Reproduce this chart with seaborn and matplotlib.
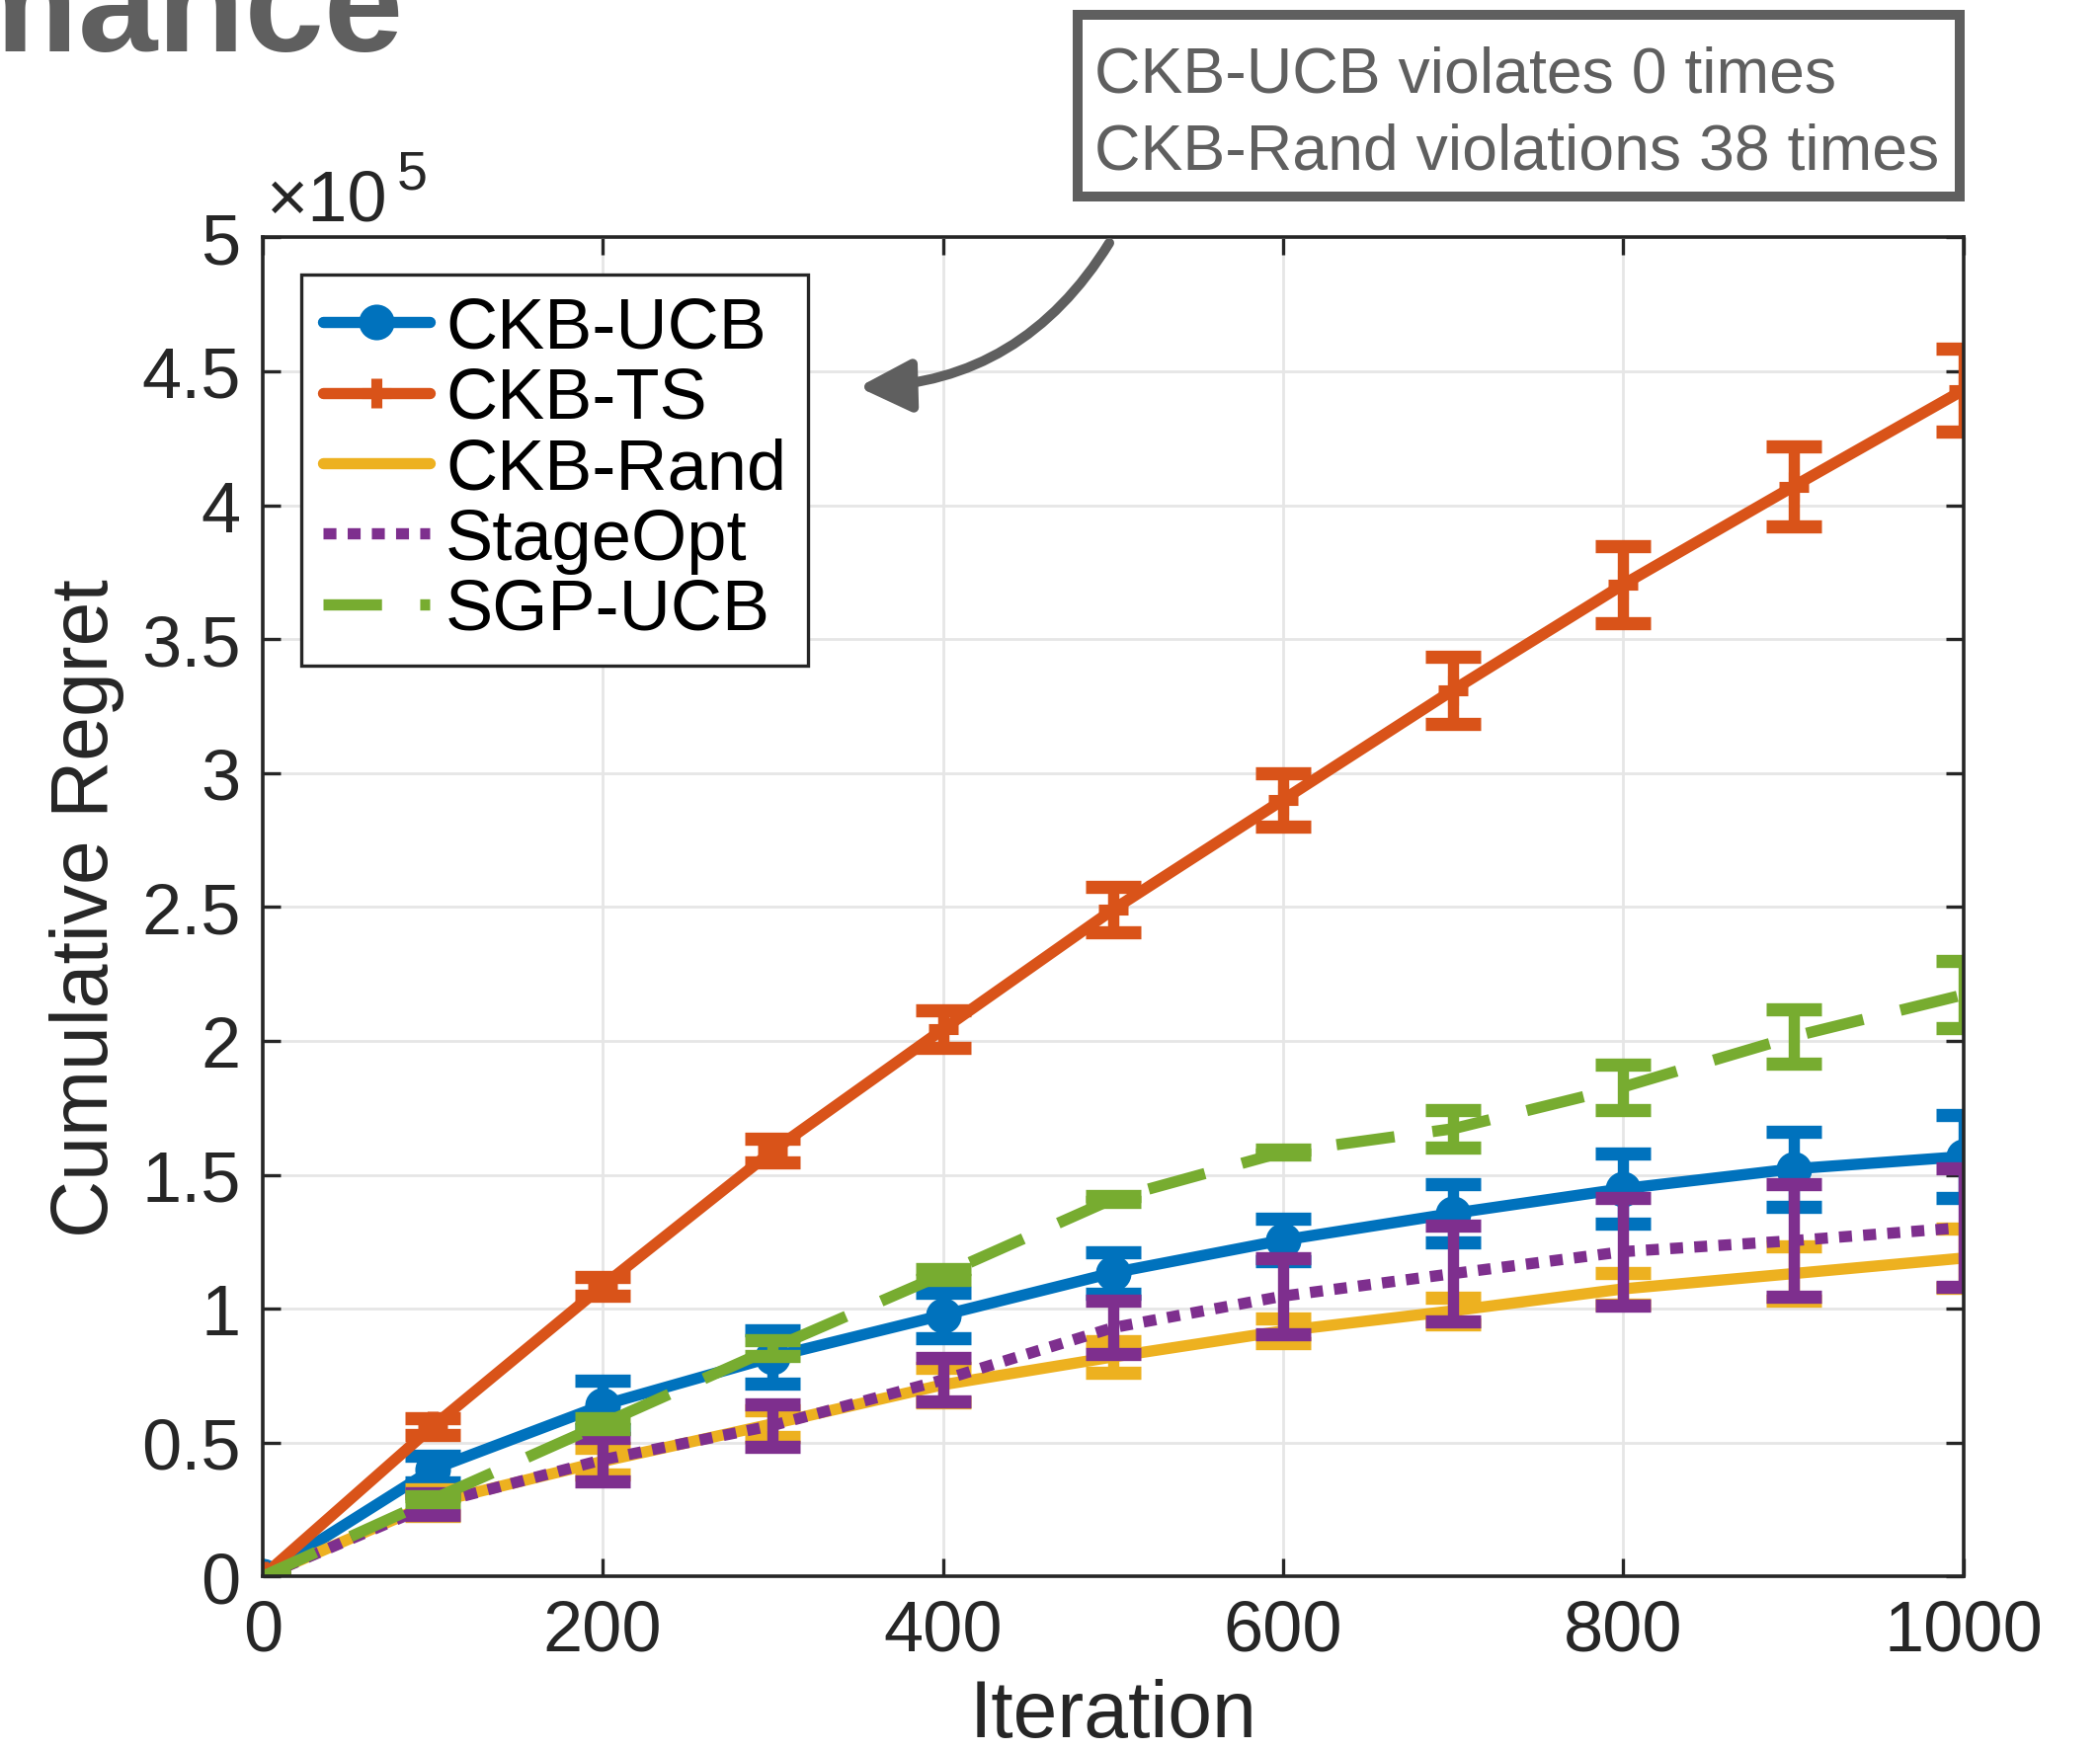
import matplotlib
matplotlib.use("Agg")
import numpy as np
import pandas as pd
import seaborn as sns
import matplotlib.pyplot as plt
from matplotlib.patches import Rectangle, FancyArrowPatch
from matplotlib.ticker import FuncFormatter

# ---------------- data (cumulative regret in units of 1e5) ----------------
iterations = [0, 100, 200, 300, 400, 500, 600, 700, 800, 900, 1000]

ckb_ucb = [0, 0.40, 0.64, 0.82, 0.976, 1.134, 1.256, 1.356, 1.448, 1.522, 1.568]
ckb_ucb_err = [0, 0.05, 0.09, 0.10, 0.085, 0.077, 0.08, 0.11, 0.13, 0.14, 0.155]

ckb_ts = [0, 0.56, 1.085, 1.59, 2.043, 2.49, 2.90, 3.31, 3.704, 4.07, 4.43]
ckb_ts_err = [0, 0.03, 0.035, 0.045, 0.07, 0.085, 0.10, 0.125, 0.145, 0.15, 0.155]

ckb_rand = [0, 0.275, 0.43, 0.57, 0.716, 0.82, 0.917, 0.992, 1.074, 1.131, 1.189]
ckb_rand_err = [0, 0.05, 0.05, 0.05, 0.065, 0.06, 0.045, 0.05, 0.06, 0.10, 0.11]

stageopt = [0, 0.27, 0.436, 0.564, 0.734, 0.929, 1.047, 1.131, 1.213, 1.254, 1.303]
stageopt_err = [0, 0.04, 0.08, 0.08, 0.082, 0.10, 0.142, 0.18, 0.20, 0.21, 0.22]

sgp_ucb = [0, 0.288, 0.57, 0.853, 1.128, 1.41, 1.585, 1.672, 1.828, 2.016, 2.172]
sgp_ucb_err = [0, 0.01, 0.02, 0.03, 0.02, 0.01, 0.01, 0.07, 0.085, 0.10, 0.125]

series_names = ["CKB-UCB", "CKB-TS", "CKB-Rand", "StageOpt", "SGP-UCB"]
y_ticks = [0, 0.5, 1, 1.5, 2, 2.5, 3, 3.5, 4, 4.5, 5]
x_ticks = [0, 200, 400, 600, 800, 1000]
note_lines = ["CKB-UCB violates 0 times", "CKB-Rand violations 38 times"]

# ---------------- style ----------------
sns.set_theme(style="whitegrid")
plt.rcParams["font.family"] = ["Liberation Sans", "DejaVu Sans"]

W, H = 2126, 1774
DPI = 200
fig = plt.figure(figsize=(W / DPI, H / DPI), dpi=DPI)
fig.patch.set_facecolor("white")

ax_l, ax_r, ax_t, ax_b = 265.8, 1987.7, 241.4, 1597.3
ax = fig.add_axes([ax_l / W, 1 - ax_b / H, (ax_r - ax_l) / W, (ax_b - ax_t) / H])
ax.set_facecolor("white")

colors = {
    "CKB-UCB": "#0072BD",
    "CKB-TS": "#D95319",
    "CKB-Rand": "#EDB120",
    "StageOpt": "#7E2F8E",
    "SGP-UCB": "#77AC30",
}
values = {
    "CKB-UCB": (ckb_ucb, ckb_ucb_err),
    "CKB-TS": (ckb_ts, ckb_ts_err),
    "CKB-Rand": (ckb_rand, ckb_rand_err),
    "StageOpt": (stageopt, stageopt_err),
    "SGP-UCB": (sgp_ucb, sgp_ucb_err),
}
LW = 4.1
styles = {
    "CKB-UCB": dict(marker="o", linestyle="-", markersize=11.5, markeredgewidth=1.5),
    "CKB-TS": dict(marker="+", linestyle="-", markersize=11, markeredgewidth=4.0),
    "CKB-Rand": dict(marker="None", linestyle="-"),
    "StageOpt": dict(marker="None", linestyle=(0, (1.15, 1.0))),
    "SGP-UCB": dict(marker="None", linestyle=(0, (5.2, 3.4))),
}

for name in series_names:
    y, err = values[name]
    df = pd.DataFrame({"Iteration": iterations, "Regret": y})
    c = colors[name]
    sns.lineplot(data=df, x="Iteration", y="Regret", ax=ax, color=c, lw=LW,
                 errorbar=None, label=name, markeredgecolor=c,
                 markerfacecolor=c, **styles[name])
    ax.errorbar(iterations, y, yerr=err, fmt="none", ecolor=c,
                elinewidth=LW, capsize=10, capthick=4.8)

# ---------------- axes ----------------
ax.set_xlim(0, 1000)
ax.set_ylim(0, 5)
ax.set_xticks(x_ticks)
ax.set_yticks(y_ticks)
ax.yaxis.set_major_formatter(FuncFormatter(lambda v, p: f"{v:g}"))
ax.grid(True, color="#e6e6e6", lw=1.0)
for sp in ax.spines.values():
    sp.set_visible(True)
    sp.set_color("#262626")
    sp.set_linewidth(1.3)
ax.tick_params(axis="both", which="major", direction="in", length=6.5,
               width=1.2, color="#262626", labelsize=26, labelcolor="#262626",
               top=True, right=True, bottom=True, left=True, pad=8)
ax.set_xlabel("Iteration", fontsize=29, color="#262626", labelpad=5)
ax.set_ylabel("Cumulative Regret", fontsize=29, color="#262626", labelpad=6)

# exponent label
fig.text(270 / W, 1 - 224 / H, "\u00d710", fontsize=26, color="#262626",
         ha="left", va="baseline")
fig.text(402 / W, 1 - 192 / H, "5", fontsize=20, color="#262626",
         ha="left", va="baseline")

# legend
leg = ax.legend(loc="upper left",
                bbox_to_anchor=((305 - ax_l) / (ax_r - ax_l), (ax_b - 279) / (ax_b - ax_t)),
                borderaxespad=0, fontsize=26, frameon=True, fancybox=False,
                framealpha=1, edgecolor="#262626", handlelength=1.5,
                handletextpad=0.22, labelspacing=0.06, borderpad=0.3)
leg.get_frame().set_linewidth(1.2)
for t in leg.get_texts():
    t.set_color("black")

# ---------------- title fragment ----------------
fig.text(409 / W, 1 - 52 / H, "Performance", fontsize=52, fontweight="bold",
         color="#5f5f5f", ha="right", va="baseline")

# ---------------- annotation box ----------------
rect = Rectangle((1091 / W, 1 - 200 / H), (1984 - 1091) / W, (200 - 16) / H,
                 transform=fig.transFigure, fill=False, edgecolor="#5f5f5f",
                 linewidth=3.6)
fig.add_artist(rect)
fig.text(1108 / W, 1 - 93 / H, note_lines[0], fontsize=23.2, color="#5f5f5f",
         ha="left", va="baseline")
fig.text(1108 / W, 1 - 172 / H, note_lines[1], fontsize=23.2, color="#5f5f5f",
         ha="left", va="baseline")

arrow = FancyArrowPatch((1123 / W, 1 - 247 / H), (869 / W, 1 - 393 / H),
                        transform=fig.transFigure,
                        connectionstyle="arc3,rad=-0.27",
                        arrowstyle="-|>,head_length=1.6,head_width=0.8",
                        mutation_scale=10, color="#5f5f5f", lw=3.6,
                        shrinkA=0, shrinkB=0)
fig.add_artist(arrow)

fig.savefig("out.png", dpi=DPI, facecolor="white")
